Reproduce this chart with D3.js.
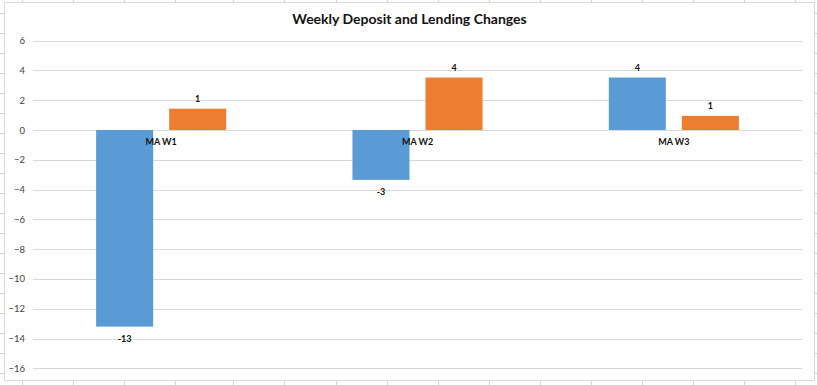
<!DOCTYPE html>
<html><head><meta charset="utf-8">
<script src="https://cdn.jsdelivr.net/npm/d3@7/dist/d3.min.js"></script>
<style>
html,body{margin:0;padding:0;background:#fff;}
svg{display:block;font-family:Lato,"Open Sans",sans-serif;}
</style></head><body>
<svg id="c" width="817" height="385"></svg>
<script>
const categories = ["MA W1", "MA W2", "MA W3"];
const seriesNames = ["Deposits", "Lending"];
const deposits = [-13.2, -3.35, 3.52];
const lending = [1.43, 3.52, 0.95];
const yTicks = [6, 4, 2, 0, -2, -4, -6, -8, -10, -12, -14, -16];
const title = "Weekly Deposit and Lending Changes";
const colors = ["#5b9bd5", "#ed7d31"];

const svg = d3.select("#c");
const W = 817, H = 385;

// spreadsheet background lines (outside the chart object)
const colX = [22, 73, 124, 175, 233, 284, 336, 387, 438, 489, 540, 591, 642, 693, 744, 795];
const rowY = d3.range(13, 385, 20);
const bg = svg.append("g").attr("stroke", "#d4d4d4").attr("stroke-width", 1);
colX.forEach(x => bg.append("line").attr("x1", x + 0.5).attr("x2", x + 0.5).attr("y1", 0).attr("y2", H));
rowY.forEach(y => bg.append("line").attr("x1", 0).attr("x2", W).attr("y1", y + 0.5).attr("y2", y + 0.5));

// chart object
svg.append("rect").attr("x", 4.5).attr("y", 2.5).attr("width", 810).attr("height", 378)
  .attr("fill", "#fff").attr("stroke", "#d9d9d9").attr("stroke-width", 1);

const plot = {left: 33, right: 802, top: 0, bottom: 0};
const y = d3.scaleLinear().domain([-16, 6]).range([368.3, 40.6]);
const x0 = d3.scaleBand().domain(categories).range([plot.left, plot.right]).paddingInner(0).paddingOuter(0);
const bw = x0.bandwidth();
const barW = bw * 0.2225;
const gap = bw * 0.0625;
const x1 = d3.scaleOrdinal().domain(seriesNames).range([-(barW + gap / 2), gap / 2]);

// gridlines
const gridG = svg.append("g");
yTicks.forEach(t => {
  gridG.append("line").attr("x1", plot.left).attr("x2", plot.right)
    .attr("y1", Math.round(y(t)) + 0.5).attr("y2", Math.round(y(t)) + 0.5)
    .attr("stroke", "#d9d9d9").attr("stroke-width", 1);
});

// y axis labels
const yAxis = d3.axisLeft(y).tickValues(yTicks).tickSize(0).tickPadding(0).tickFormat(d3.format("d"));
const ya = svg.append("g").attr("transform", "translate(25,0)").call(yAxis);
ya.select(".domain").remove();
ya.selectAll("text").attr("font-size", "9.5px").attr("fill", "#404040").attr("font-family", "Lato");

// bars
const data = categories.map((c, i) => [
  {cat: c, s: seriesNames[0], v: deposits[i]},
  {cat: c, s: seriesNames[1], v: lending[i]}
]).flat();

const cx = d => x0(d.cat) + bw / 2 + x1(d.s);
svg.append("g").selectAll("rect").data(data).join("rect")
  .attr("x", cx)
  .attr("width", barW)
  .attr("y", d => y(Math.max(0, d.v)))
  .attr("height", d => Math.abs(y(d.v) - y(0)))
  .attr("fill", (d) => colors[seriesNames.indexOf(d.s)]);

// data labels
const fmt = v => String(Math.sign(v) * Math.round(Math.abs(v)));
svg.append("g").selectAll("text").data(data).join("text")
  .attr("x", d => cx(d) + barW / 2)
  .attr("y", d => d.v >= 0 ? y(d.v) - 6.5 : y(d.v) + 15)
  .attr("text-anchor", "middle")
  .attr("font-size", "9px").attr("font-weight", "bold").attr("fill", "#111")
  .text(d => fmt(d.v));

// category labels
const xAxis = d3.axisBottom(x0).tickSize(0).tickPadding(0);
const xa = svg.append("g").attr("transform", `translate(0,${y(0) + 9})`).call(xAxis);
xa.select(".domain").remove();
xa.selectAll("text").attr("font-size", "9px").attr("font-weight", "bold").attr("fill", "#111").attr("font-family", "Lato");

// title
svg.append("text").attr("x", 409.5).attr("y", 24).attr("text-anchor", "middle")
  .attr("font-size", "14px").attr("font-weight", "bold").attr("fill", "#111")
  .text(title);
</script>
</body></html>
